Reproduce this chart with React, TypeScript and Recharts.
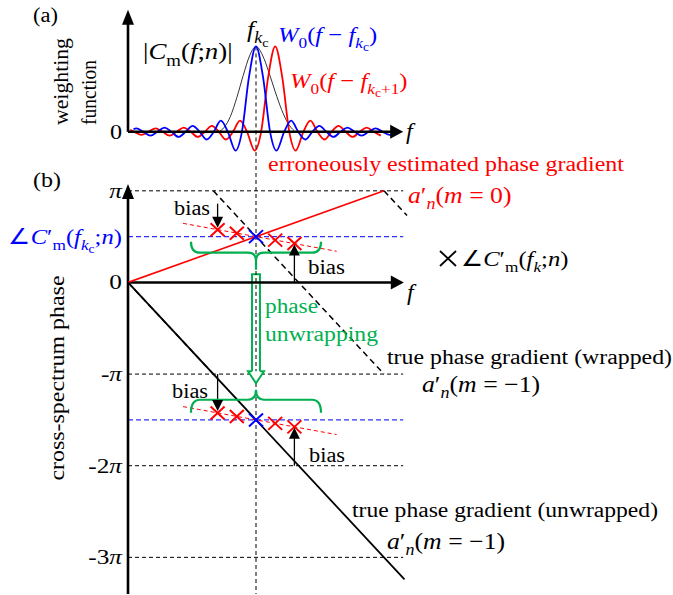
import React from "react";
import {
  ComposedChart,
  Line,
  Scatter,
  XAxis,
  YAxis,
  ReferenceLine,
  ReferenceDot,
  ReferenceArea,
} from "recharts";

const FONT = "'Liberation Serif', 'Times New Roman', Times, serif";
const RED = "#ff0000";
const BLUE = "#0000ff";
const DASH_BLUE = "#3030ff";
const GREEN = "#00b050";

// f axis shared by both panels, f_kc = 10, bins 1.5 apart
// (a) weighting functions
const W0_KC_F = [0.43, 0.65, 1.2, 1.75, 2.3, 2.85, 3.4, 3.95, 4.5, 5.05, 5.6, 6.15, 6.7, 7.25, 7.8, 8.4, 8.9, 9.45, 10, 10.55, 11.1, 11.6, 12.2, 12.75, 13.3, 13.85, 14.4, 14.95, 15.5, 16.05, 16.6, 17.15, 17.7, 18.25, 18.8, 19.35, 19.9, 20.45, 20.9];
const W0_KC_V = [0.03, 0.04, 0, -0.045, 0, 0.05, 0, -0.06, 0, 0.07, 0, -0.09, 0, 0.13, 0, -0.22, 0, 0.64, 1, 0.64, 0, -0.22, 0, 0.13, 0, -0.09, 0, 0.07, 0, -0.06, 0, 0.05, 0, -0.045, 0, 0.04, 0, -0.035, -0.01];

const W0_NEXT_F = [0.17, 0.5, 1.05, 1.6, 2.15, 2.7, 3.25, 3.8, 4.35, 4.9, 5.45, 6.0, 6.55, 7.1, 7.65, 8.2, 8.75, 9.3, 9.9, 10.4, 10.95, 11.5, 12.05, 12.6, 13.1, 13.7, 14.25, 14.8, 15.35, 15.9, 16.45, 17.0, 17.55, 18.1, 18.65, 19.2, 19.75];
const W0_NEXT_V = [0.025, 0, -0.035, 0, 0.04, 0, -0.045, 0, 0.05, 0, -0.06, 0, 0.07, 0, -0.09, 0, 0.13, 0, -0.22, 0, 0.64, 1, 0.64, 0, -0.22, 0, 0.13, 0, -0.09, 0, 0.07, 0, -0.06, 0, 0.05, 0, -0.045];

const CM_F = [7.1, 7.5, 8.0, 8.5, 9.0, 9.5, 10, 10.5, 11, 11.5, 12, 12.5, 13.0];
const CM_V = [0, 0.05, 0.18, 0.4, 0.66, 0.89, 1, 0.9, 0.7, 0.47, 0.26, 0.1, 0.01];

// (b) phase in units of pi
const ESTIMATED_F = [0, 20];
const ESTIMATED_PHASE = [0, 1];
const UNWRAPPED_F = [0, 21.6];
const UNWRAPPED_PHASE = [0, -3.24];
const WRAPPED_F = [0, 6.67, 6.67, 6.67, 20, 20, 20, 21.8];
const WRAPPED_PHASE = [0, -1, null, 1, -1, null, 1, 0.73];
const BIN_F = [7, 8.5, 10, 11.5, 13];
const BIN_PHASE = [0.576, 0.538, 0.5, 0.462, 0.424];
const BIN_PHASE_UNWRAPPED = [-1.424, -1.462, -1.5, -1.538, -1.576];
const BIAS_F = [4.3, 16.3];
const BIAS_PHASE = [0.645, 0.34];
const BIAS_PHASE_UNWRAPPED = [-1.355, -1.66];
const CENTER_PHASE = [0.5, -1.5];
const WRAP_LEVELS = [1, -1, -2, -3];
const PHASE_TICKS = [1, 0.5, 0, -1, -2, -3];
const PHASE_TICK_LABELS = ["π", "", "0", "-π", "-2π", "-3π"];

const zip = (fs: number[], vs: (number | null)[], key: string) =>
  fs.map((f, i) => ({ f, [key]: vs[i] }));

const w0kc = zip(W0_KC_F, W0_KC_V, "v");
const w0next = zip(W0_NEXT_F, W0_NEXT_V, "v");
const cm = zip(CM_F, CM_V, "v");
const estimated = zip(ESTIMATED_F, ESTIMATED_PHASE, "y");
const unwrapped = zip(UNWRAPPED_F, UNWRAPPED_PHASE, "y");
const wrapped = zip(WRAPPED_F, WRAPPED_PHASE, "y");
const biasUp = zip(BIAS_F, BIAS_PHASE, "y");
const biasLow = zip(BIAS_F, BIAS_PHASE_UNWRAPPED, "y");
const binsUp = zip(BIN_F, BIN_PHASE, "y");
const binsLow = zip(BIN_F, BIN_PHASE_UNWRAPPED, "y");
const redBins = [...binsUp, ...binsLow].filter((d) => d.f !== 10);
const blueBins = [...binsUp, ...binsLow].filter((d) => d.f === 10);

type Part = [string, number, boolean];
const OFF: Record<number, number> = { 0: 0, 1: 0.28, 2: 0.42 };
const SIZE: Record<number, number> = { 0: 1, 1: 0.7, 2: 0.55 };

function MathText({ x, y, fs = 23, fill = "#000", parts, anchor = "start" }: any) {
  let cur = 0;
  return (
    <text
      transform={`translate(${x},${y}) scale(1.12,1)`}
      textAnchor={anchor}
      fill={fill}
      style={{ whiteSpace: "pre", fontFamily: FONT, fontSize: fs }}
    >
      {(parts as Part[]).map(([t, lvl, it], i) => {
        const dy = (OFF[lvl] - OFF[cur]) * fs;
        cur = lvl;
        return (
          <tspan key={i} dy={dy} style={{ fontSize: SIZE[lvl] * fs, fontStyle: it ? "italic" : "normal" }}>
            {t}
          </tspan>
        );
      })}
    </text>
  );
}

const CM_LABEL: Part[] = [["|", 0, false], ["C", 0, true], ["m", 1, false], ["(", 0, false], ["f", 0, true], [";", 0, false], ["n", 0, true], [")|", 0, false]];
const FKC_LABEL: Part[] = [["f", 0, true], ["k", 1, true], ["c", 2, false]];
const W0KC_LABEL: Part[] = [["W", 0, true], ["0", 1, false], ["(", 0, false], ["f", 0, true], [" − ", 0, false], ["f", 0, true], ["k", 1, true], ["c", 2, false], [")", 0, false]];
const W0NEXT_LABEL: Part[] = [["W", 0, true], ["0", 1, false], ["(", 0, false], ["f", 0, true], [" − ", 0, false], ["f", 0, true], ["k", 1, true], ["c", 2, false], ["+1", 1, false], [")", 0, false]];
const A0_LABEL: Part[] = [["a", 0, true], ["′", 0, false], ["n", 1, true], ["(", 0, false], ["m", 0, true], [" = 0)", 0, false]];
const AM1_LABEL: Part[] = [["a", 0, true], ["′", 0, false], ["n", 1, true], ["(", 0, false], ["m", 0, true], [" = −1)", 0, false]];
const ANGLE_CKC: Part[] = [["∠", 0, false], ["C", 0, true], ["′", 0, false], ["m", 1, false], ["(", 0, false], ["f", 0, true], ["k", 1, true], ["c", 2, false], [";", 0, false], ["n", 0, true], [")", 0, false]];
const ANGLE_CK: Part[] = [["∠", 0, false], ["C", 0, true], ["′", 0, false], ["m", 1, false], ["(", 0, false], ["f", 0, true], ["k", 1, true], [";", 0, false], ["n", 0, true], [")", 0, false]];

function PhaseTick(props: any) {
  const { x, y, payload } = props;
  if (payload.value === 0.5) {
    return <MathText x={x} y={y + 7} fs={22} anchor="end" fill={BLUE} parts={ANGLE_CKC} />;
  }
  const lab = PHASE_TICK_LABELS[PHASE_TICKS.indexOf(payload.value)] || "";
  return (
    <text transform={`translate(${x},${y + 7}) scale(1.15,1)`} textAnchor="end" fill="#000" style={{ fontFamily: FONT, fontSize: 22 }}>
      {lab.replace("π", "")}
      {lab.includes("π") && <tspan style={{ fontStyle: "italic" }}>π</tspan>}
    </text>
  );
}

function WeightTick(props: any) {
  const { x, y } = props;
  return (
    <text transform={`translate(${x},${y + 7}) scale(1.15,1)`} textAnchor="end" fill="#000" style={{ fontFamily: FONT, fontSize: 21 }}>
      0
    </text>
  );
}

const ArrowUp = (p: any) => (
  <polygon points={`${p.cx},${p.cy} ${p.cx - 6},${p.cy + 15} ${p.cx + 6},${p.cy + 15}`} fill="#000" />
);
const ArrowRight = (p: any) => (
  <polygon points={`${p.cx},${p.cy} ${p.cx - 13},${p.cy - 7} ${p.cx - 13},${p.cy + 7}`} fill="#000" />
);
const BiasDown = (p: any) => (
  <polygon points={`${p.cx},${p.cy - 2} ${p.cx - 5.5},${p.cy - 13} ${p.cx + 5.5},${p.cy - 13}`} fill="#000" />
);
const BiasUp = (p: any) => (
  <polygon points={`${p.cx},${p.cy + 1} ${p.cx - 5.5},${p.cy + 12} ${p.cx + 5.5},${p.cy + 12}`} fill="#000" />
);
const HollowHead = (p: any) => {
  const { cx, cy } = p;
  return (
    <g>
      <polygon points={`${cx - 8},${cy - 12} ${cx + 8},${cy - 12} ${cx},${cy}`} fill="#fff" />
      <polyline
        points={`${cx - 4},${cy - 12} ${cx - 8},${cy - 12} ${cx},${cy} ${cx + 8},${cy - 12} ${cx + 4},${cy - 12}`}
        fill="none"
        stroke={GREEN}
        strokeWidth={2}
      />
    </g>
  );
};
const BraceOpenUp = (p: any) => {
  const { cx, cy } = p;
  return (
    <path
      d={`M${cx - 65},${cy - 11} Q${cx - 65},${cy} ${cx - 56},${cy} L${cx - 8},${cy} Q${cx},${cy} ${cx},${cy + 8} Q${cx},${cy} ${cx + 8},${cy} L${cx + 56},${cy} Q${cx + 65},${cy} ${cx + 65},${cy - 11} M${cx},${cy + 8} L${cx},${cy + 17}`}
      fill="none"
      stroke={GREEN}
      strokeWidth={2.2}
    />
  );
};
const BraceOpenDown = (p: any) => {
  const { cx, cy } = p;
  return (
    <path
      d={`M${cx - 65},${cy + 13} Q${cx - 65},${cy} ${cx - 56},${cy} L${cx - 8},${cy} Q${cx},${cy} ${cx},${cy - 10} Q${cx},${cy} ${cx + 8},${cy} L${cx + 56},${cy} Q${cx + 65},${cy} ${cx + 65},${cy + 13}`}
      fill="none"
      stroke={GREEN}
      strokeWidth={2.2}
    />
  );
};
const xMark = (color: string) => (p: any) => (
  <g stroke={color} strokeWidth={2}>
    <line x1={p.cx - 7} y1={p.cy - 6.5} x2={p.cx + 7} y2={p.cy + 6.5} />
    <line x1={p.cx - 7} y1={p.cy + 6.5} x2={p.cx + 7} y2={p.cy - 6.5} />
  </g>
);

const plain = (t: string, x: number, y: number, w: number, fill = "#000", fs = 20) => (
  <text key={t + x + y} x={x} y={y} fill={fill} textLength={w} lengthAdjust="spacingAndGlyphs" style={{ fontFamily: FONT, fontSize: fs }}>
    {t}
  </text>
);

const rotated = (t: string, x: number, y: number, w: number, anchor: string, fs: number) => (
  <text x={x} y={y} transform={`rotate(-90 ${x} ${y})`} textAnchor={anchor} textLength={w} lengthAdjust="spacingAndGlyphs" style={{ fontFamily: FONT, fontSize: fs }}>
    {t}
  </text>
);

export default function App() {
  return (
    <div style={{ position: "absolute", left: 0, top: 0, width: 673, height: 595, background: "#fff" }}>
      <div style={{ position: "absolute", left: 0, top: 0 }}>
        <ComposedChart width={673} height={161} margin={{ top: 8, right: 1, bottom: 1, left: 0 }}>
          <XAxis type="number" dataKey="f" domain={[0, 42.5]} hide allowDataOverflow />
          <YAxis type="number" dataKey="v" domain={[-0.33, 1.45]} allowDataOverflow ticks={[0]} interval={0} width={128} axisLine={false} tickLine={false} tickSize={6} tickMargin={0} tick={WeightTick} />
          <ReferenceLine segment={[{ x: 10, y: 1 }, { x: 10, y: -0.15 }]} stroke="#000" strokeDasharray="4 3" ifOverflow="visible" />
          <Line data={cm} dataKey="v" type="monotone" stroke="#000" strokeWidth={0.8} dot={false} activeDot={false} isAnimationActive={false} />
          <Line data={w0next} dataKey="v" type="monotone" stroke={RED} strokeWidth={1.8} dot={false} activeDot={false} isAnimationActive={false} />
          <Line data={w0kc} dataKey="v" type="monotone" stroke={BLUE} strokeWidth={1.8} dot={false} activeDot={false} isAnimationActive={false} />
          <ReferenceLine segment={[{ x: 0, y: 0 }, { x: 0, y: 1.3 }]} stroke="#000" strokeWidth={2.6} ifOverflow="visible" />
          <ReferenceLine segment={[{ x: 0, y: 0 }, { x: 21, y: 0 }]} stroke="#000" strokeWidth={2.6} ifOverflow="visible" />
          <ReferenceDot x={0} y={1.43} shape={ArrowUp} ifOverflow="visible" />
          <ReferenceDot x={21.5} y={0} shape={ArrowRight} ifOverflow="visible" />
        </ComposedChart>
      </div>
      <div style={{ position: "absolute", left: 0, top: 0 }}>
        <ComposedChart width={673} height={595} margin={{ top: 145, right: 1, bottom: 1, left: 0 }}>
          <XAxis type="number" dataKey="f" domain={[0, 42.5]} hide allowDataOverflow />
          <YAxis type="number" dataKey="y" domain={[-3.4, 1.5]} allowDataOverflow ticks={PHASE_TICKS} interval={0} width={128} axisLine={false} tickLine={false} tickSize={6} tickMargin={0} tick={PhaseTick} />
          {WRAP_LEVELS.map((l) => (
            <ReferenceLine key={"w" + l} segment={[{ x: 0, y: l }, { x: 21.5, y: l }]} stroke="#000" strokeWidth={1} strokeDasharray="4 3" ifOverflow="visible" />
          ))}
          {CENTER_PHASE.map((l) => (
            <ReferenceLine key={"c" + l} segment={[{ x: 0, y: l }, { x: 21.5, y: l }]} stroke={DASH_BLUE} strokeWidth={1.2} strokeDasharray="5 3" ifOverflow="visible" />
          ))}
          <ReferenceLine segment={[{ x: 10, y: 1.5 }, { x: 10, y: -3.4 }]} stroke="#000" strokeDasharray="4 3" ifOverflow="visible" />
          <ReferenceLine segment={[{ x: 0, y: -3.4 }, { x: 0, y: 1.0 }]} stroke="#000" strokeWidth={2.6} ifOverflow="visible" />
          <ReferenceLine segment={[{ x: 0, y: 0 }, { x: 21, y: 0 }]} stroke="#000" strokeWidth={2.6} ifOverflow="visible" />
          <ReferenceDot x={0} y={1.074} shape={ArrowUp} ifOverflow="visible" />
          <ReferenceDot x={21.55} y={0} shape={ArrowRight} ifOverflow="visible" />
          <ReferenceArea x1={9.69} x2={10.31} y1={-1.0} y2={0.09} fill="#fff" fillOpacity={1} stroke={GREEN} strokeWidth={2} ifOverflow="visible" />
          <ReferenceDot x={10} y={-1.1} shape={HollowHead} ifOverflow="visible" />
          <ReferenceDot x={10} y={0.325} shape={BraceOpenUp} ifOverflow="visible" />
          <ReferenceDot x={10} y={-1.28} shape={BraceOpenDown} ifOverflow="visible" />
          <Line data={estimated} dataKey="y" type="linear" stroke={RED} strokeWidth={1.6} dot={false} activeDot={false} isAnimationActive={false} />
          <Line data={unwrapped} dataKey="y" type="linear" stroke="#000" strokeWidth={1.8} dot={false} activeDot={false} isAnimationActive={false} />
          <Line data={wrapped} dataKey="y" type="linear" stroke="#000" strokeWidth={1.5} strokeDasharray="6 4" connectNulls={false} dot={false} activeDot={false} isAnimationActive={false} />
          <Line data={biasUp} dataKey="y" type="linear" stroke={RED} strokeWidth={1} strokeDasharray="4 3" dot={false} activeDot={false} isAnimationActive={false} />
          <Line data={biasLow} dataKey="y" type="linear" stroke={RED} strokeWidth={1} strokeDasharray="4 3" dot={false} activeDot={false} isAnimationActive={false} />
          <ReferenceLine segment={[{ x: 7, y: 0.86 }, { x: 7, y: 0.7 }]} stroke="#000" strokeWidth={1.3} ifOverflow="visible" />
          <ReferenceLine segment={[{ x: 13, y: 0 }, { x: 13, y: 0.3 }]} stroke="#000" strokeWidth={1.3} ifOverflow="visible" />
          <ReferenceLine segment={[{ x: 7, y: -1 }, { x: 7, y: -1.3 }]} stroke="#000" strokeWidth={1.3} ifOverflow="visible" />
          <ReferenceLine segment={[{ x: 13, y: -2 }, { x: 13, y: -1.7 }]} stroke="#000" strokeWidth={1.3} ifOverflow="visible" />
          <Scatter data={redBins} dataKey="y" shape={xMark(RED)} isAnimationActive={false} />
          <Scatter data={blueBins} dataKey="y" shape={xMark(BLUE)} isAnimationActive={false} />
          <ReferenceDot x={7} y={0.576} shape={BiasDown} ifOverflow="visible" />
          <ReferenceDot x={13} y={0.424} shape={BiasUp} ifOverflow="visible" />
          <ReferenceDot x={7} y={-1.424} shape={BiasDown} ifOverflow="visible" />
          <ReferenceDot x={13} y={-1.576} shape={BiasUp} ifOverflow="visible" />
        </ComposedChart>
      </div>
      <svg width={673} height={595} style={{ position: "absolute", left: 0, top: 0, pointerEvents: "none" }}>
        {plain("(a)", 33, 22, 25)}
        {plain("(b)", 33, 187, 28)}
        {rotated("weighting", 68, 125, 87, "start", 21)}
        {rotated("function", 96, 125, 65, "start", 21)}
        {rotated("cross-spectrum phase", 64, 378, 205, "middle", 22)}
        <text x={406} y={139} style={{ fontFamily: FONT, fontSize: 24, fontStyle: "italic" }}>f</text>
        <text x={407} y={300} style={{ fontFamily: FONT, fontSize: 24, fontStyle: "italic" }}>f</text>
        <MathText x={143} y={59} fs={24} parts={CM_LABEL} />
        <MathText x={247} y={37} fs={23} parts={FKC_LABEL} />
        <MathText x={278} y={42} fs={22} fill={BLUE} parts={W0KC_LABEL} />
        <MathText x={290} y={88} fs={22} fill={RED} parts={W0NEXT_LABEL} />
        {plain("erroneously estimated phase gradient", 268, 171, 356, RED)}
        <MathText x={408} y={203} fs={23} fill={RED} parts={A0_LABEL} />
        <g stroke="#000" strokeWidth={1.8}>
          <line x1={440} y1={251} x2={456} y2={266} />
          <line x1={440} y1={266} x2={456} y2={251} />
        </g>
        <MathText x={461} y={266} fs={22} parts={ANGLE_CK} />
        {plain("bias", 174, 215, 36)}
        {plain("bias", 308, 274, 37)}
        {plain("bias", 172, 398, 36)}
        {plain("bias", 309, 462, 36)}
        {plain("phase", 265, 313, 53, GREEN)}
        {plain("unwrapping", 265, 341, 113, GREEN)}
        {plain("true phase gradient (wrapped)", 387, 364, 285)}
        <MathText x={422} y={392} fs={23} parts={AM1_LABEL} />
        {plain("true phase gradient (unwrapped)", 352, 517, 306)}
        <MathText x={387} y={549} fs={23} parts={AM1_LABEL} />
      </svg>
    </div>
  );
}
